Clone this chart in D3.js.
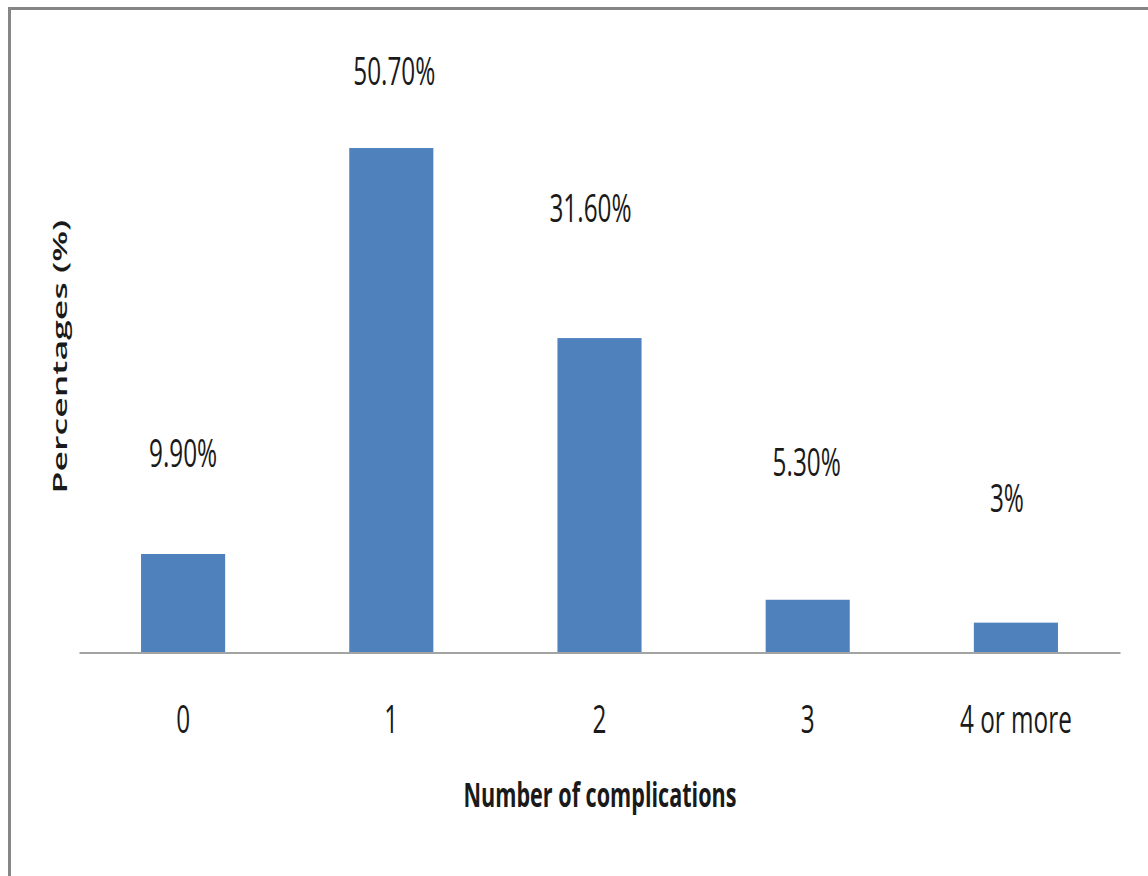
<!DOCTYPE html>
<html>
<head>
<meta charset="utf-8">
<script src="https://cdn.jsdelivr.net/npm/d3@7"></script>
<style>
  html, body { margin: 0; padding: 0; background: #ffffff; }
  svg { display: block; }
  text { font-family: "Open Sans", "Liberation Sans", sans-serif; fill: #1a1a1a; }
</style>
</head>
<body>
<svg id="chart" width="1148" height="876"></svg>
<script>
// Share of patients by number of complications
const categories = ["0", "1", "2", "3", "4 or more"];
const percentages = [9.9, 50.7, 31.6, 5.3, 3];
const valueLabels = ["9.90%", "50.70%", "31.60%", "5.30%", "3%"];

// Hand placement of the value labels (lift above bar top, sideways nudge), in px
const labelLift = [87, 63, 116, 124, 111];
const labelNudge = [0, 3, -9, -1, -9];

const svg = d3.select("#chart");
const W = 1148, H = 876;
const baseY = 652.5;
const narrow = 0.64; // horizontal squeeze applied to the condensed text

// chart frame (runs off the right and bottom edges)
svg.append("rect")
  .attr("x", 9.5).attr("y", 8.5)
  .attr("width", W + 20).attr("height", H + 20)
  .attr("fill", "#ffffff")
  .attr("stroke", "#868686")
  .attr("stroke-width", 3);

const x = d3.scaleBand()
  .domain(categories)
  .range([79, 1120])
  .paddingInner(0.596)
  .paddingOuter(0.298);

const y = d3.scaleLinear()
  .domain([0, 60])
  .range([baseY, baseY - 597]);

// bars
svg.append("g")
  .selectAll("rect")
  .data(percentages)
  .join("rect")
  .attr("x", (d, i) => x(categories[i]))
  .attr("y", d => y(d))
  .attr("width", x.bandwidth())
  .attr("height", d => baseY - y(d))
  .attr("fill", "#4f81bd");

// category axis (line only, labels below)
const xAxis = d3.axisBottom(x).tickSize(0).tickFormat("");
const gx = svg.append("g")
  .attr("transform", `translate(0,${baseY})`)
  .call(xAxis);
gx.select(".domain").attr("stroke", "#a3a3a3").attr("stroke-width", 2);

svg.append("g")
  .selectAll("text")
  .data(categories)
  .join("text")
  .attr("transform", d => `translate(${x(d) + x.bandwidth() / 2},733) scale(${narrow},1)`)
  .attr("text-anchor", "middle")
  .attr("font-size", 38)
  .text(d => d);

// value labels
svg.append("g")
  .selectAll("text")
  .data(percentages)
  .join("text")
  .attr("transform", (d, i) =>
    `translate(${x(categories[i]) + x.bandwidth() / 2 + labelNudge[i]},${y(d) - labelLift[i]}) scale(${narrow},1)`)
  .attr("text-anchor", "middle")
  .attr("font-size", 38)
  .text((d, i) => valueLabels[i]);

// axis titles
svg.append("text")
  .attr("transform", `translate(600,807) scale(0.635,1)`)
  .attr("text-anchor", "middle")
  .attr("font-size", 34)
  .attr("font-weight", 700)
  .text("Number of complications");

svg.append("text")
  .attr("transform", `translate(67,356.5) rotate(-90) scale(1.74,1)`)
  .attr("text-anchor", "middle")
  .attr("font-size", 20.5)
  .attr("font-weight", 600)
  .text("Percentages (%)");
</script>
</body>
</html>
